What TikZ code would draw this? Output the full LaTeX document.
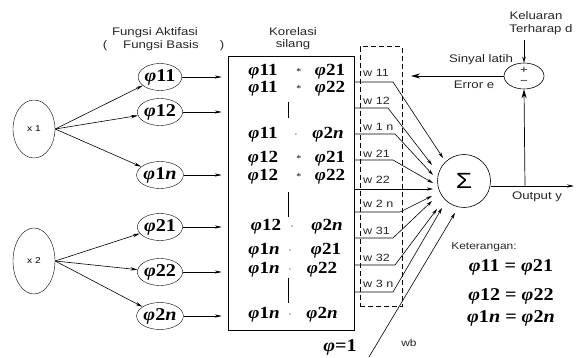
\documentclass[tikz,border=0pt]{standalone}
\usepackage{fontspec}
\setmainfont{Liberation Sans}
\newfontfamily\lab[FakeStretch=1.2]{Liberation Sans}
\newfontfamily\phf[FakeStretch=1.12]{Liberation Serif}
\usetikzlibrary{arrows.meta,shapes.geometric}
\newcommand\Phx[1]{{\itshape φ}#1}
\begin{document}
\begin{tikzpicture}[x=1pt,y=-1pt,
  lbl/.style={font=\lab\fontsize{11}{12}\selectfont, inner sep=0, text=black!85},
  wl/.style={font=\lab\fontsize{10.5}{11}\selectfont, inner sep=0, anchor=west, text=black!85},
  fm/.style={font=\phf\bfseries\fontsize{17}{17}\selectfont, inner sep=0},
  inp/.style={ellipse, draw, minimum width=42, inner sep=0, font=\lab\fontsize{8.5}{9}\selectfont},
  phe/.style={ellipse, draw, minimum width=43, minimum height=27, inner sep=0, font=\phf\bfseries\fontsize{18}{18}\selectfont},
  arr/.style={-{Stealth[length=7pt,width=3.2pt]}, line width=0.6pt},
  warr/.style={-{Stealth[length=6pt,width=3.2pt]}, line width=0.6pt},
  bigarr/.style={-{Stealth[length=9pt,width=5pt]}, line width=0.7pt},
  smarr/.style={-{Stealth[length=6pt,width=3.5pt]}, line width=0.7pt},
  dotm/.style={font=\phf\fontsize{9}{9}\selectfont, inner sep=0},
  eqf/.style={fm, font=\phf\bfseries\fontsize{18}{18}\selectfont}
]
\useasboundingbox (0,0) rectangle (576,358);

% titles
\node[lbl] (t1) at (155,33) {Fungsi Aktifasi};
\node[lbl] (t2a) at (105,46) {(};
\node[lbl] (t2) at (161,46) {Fungsi Basis};
\node[lbl] (t2b) at (222,46) {)};
\node[lbl] (t3) at (293,32) {Korelasi};
\node[lbl] (t4) at (293,45) {silang};

% inputs
\node[inp, minimum height=58] (x1) at (34,129) {x 1};
\node[inp, minimum height=66] (x2) at (34,261) {x 2};

% basis functions
\node[phe] (p11) at (160,77) {\Phx{11}};
\node[phe] (p12) at (160,112) {\Phx{12}};
\node[phe] (p1n) at (160,175) {\Phx{1\textit{n}}};
\node[phe] (p21) at (160,227) {\Phx{21}};
\node[phe] (p22) at (160,272) {\Phx{22}};
\node[phe] (p2n) at (160,316) {\Phx{2\textit{n}}};

\foreach \p in {p11,p12,p1n} \draw[arr] (x1.east) -- (\p);
\foreach \p in {p21,p22,p2n} \draw[arr] (x2.east) -- (\p);

% correlation box
\node[draw, line width=0.6pt, minimum width=126, minimum height=274, inner sep=0] (corr) at (291,193) {};
\foreach \p in {p11,p12,p1n,p21,p22,p2n}
  \draw[arr, shorten >=6pt] (\p.east) -- (\p.east -| corr.west);

% rows
\node[fm] (a1) at (263,72) {\Phx{11}};  \node[dotm] (d1) at (299,72) {*};  \node[fm] (b1) at (330,72) {\Phx{21}};
\node[fm] (a2) at (263,89) {\Phx{11}};  \node[dotm] (d2) at (299,89) {*};  \node[fm] (b2) at (330,89) {\Phx{22}};
\draw[line width=1pt] (288,102) -- (288,118);
\node[fm] (a3) at (263,135) {\Phx{11}}; \node[dotm] (d3) at (296,136) {·}; \node[fm] (b3) at (328,135) {\Phx{2\textit{n}}};
\node[fm] (a4) at (263,159) {\Phx{12}}; \node[dotm] (d4) at (299,159) {*}; \node[fm] (b4) at (330,159) {\Phx{21}};
\node[fm] (a5) at (263,177) {\Phx{12}}; \node[dotm] (d5) at (299,177) {*}; \node[fm] (b5) at (330,177) {\Phx{22}};
\draw[line width=1pt] (288,192) -- (288,217);
\node[fm] (a6) at (266,227) {\Phx{12}}; \node[dotm] (d6) at (292,228) {·}; \node[fm] (b6) at (327,227) {\Phx{2\textit{n}}};
\node[fm] (a7) at (264,251) {\Phx{1\textit{n}}}; \node[dotm] (d7) at (290,252) {·}; \node[fm] (b7) at (326,251) {\Phx{21}};
\node[fm] (a8) at (264,270) {\Phx{1\textit{n}}}; \node[dotm] (d8) at (290,271) {·}; \node[fm] (b8) at (322,270) {\Phx{22}};
\draw[line width=1pt] (288,278) -- (288,303);
\node[fm] (a9) at (264,315) {\Phx{1\textit{n}}}; \node[dotm] (d9) at (290,316) {·}; \node[fm] (b9) at (322,315) {\Phx{2\textit{n}}};

% weights box
\node[draw, dashed, line width=1pt, dash pattern=on 5pt off 3pt, minimum width=42, minimum height=260, inner sep=0] (wbox) at (381,177) {};

% sum node
\node[circle, draw, line width=0.6pt, minimum size=53, inner sep=0, font=\lab\fontsize{22}{22}\selectfont] (sig) at (464,181) {Σ};

% weight lines
\coordinate (e1) at (393,82);  \coordinate (q1) at (443,158);
\coordinate (e2) at (388,108); \coordinate (q2) at (432,165);
\coordinate (e3) at (395,134); \coordinate (q3) at (433,175);
\coordinate (e4) at (393,160); \coordinate (q4) at (433,183);
\coordinate (q5) at (433,189);
\coordinate (e6) at (400,212); \coordinate (q6) at (432,196);
\coordinate (e7) at (393,238); \coordinate (q7) at (432,201);
\coordinate (e8) at (395,265); \coordinate (q8) at (437,209);
\coordinate (e9) at (393,292); \coordinate (q9) at (442,208);
\foreach \i in {1,2,3,4,6,7,8,9}
  \draw[warr] (corr.east |- e\i) -- (e\i) -- (q\i);
\draw[warr] (corr.east |- q5) -- (q5);

\node[wl] (w1) at (363,73) {w 11};
\node[wl] (w2) at (363,101) {w 12};
\node[wl] (w3) at (363,127) {w 1 n};
\node[wl] (w4) at (363,154) {w 21};
\node[wl] (w5) at (363,180) {w 22};
\node[wl] (w6) at (363,204) {w 2 n};
\node[wl] (w7) at (363,231) {w 31};
\node[wl] (w8) at (363,258) {w 32};
\node[wl] (w9) at (363,284) {w 3 n};

% bias
\coordinate (b0) at (369,357); \coordinate (qb) at (455,213);
\draw[warr] (b0) -- (qb);
\node[lbl, font=\lab\fontsize{10}{10}\selectfont] (wb) at (409,343) {wb};
\node[eqf] (phi1) at (340,347) {{\itshape φ}=1};

% error node
\node[ellipse, draw, line width=0.6pt, minimum width=40, minimum height=26, inner sep=0] (pm) at (524,76) {};
\node[lbl, font=\lab\fontsize{11}{11}\selectfont] (plus) at (524,70) {+};
\node[lbl, font=\lab\fontsize{11}{11}\selectfont] (minus) at (524,82) {−};

\node[lbl] (k1) at (536,16) {Keluaran};
\node[lbl] (k2) at (541,30) {Terharap d};
\coordinate (kd) at (524,40);
\draw[smarr] (kd) -- (pm.north);

\coordinate (ee) at (411,76);
\draw[bigarr] (pm.west) -- (ee);
\node[lbl] (sl) at (481,60) {Sinyal latih};
\node[lbl] (er) at (474,85) {Error e};

\coordinate (oy) at (574,186);
\draw[arr] (sig.east |- oy) -- (oy);
\coordinate (j) at (525,186);
\draw[bigarr] (j) -- (pm.south);
\node[lbl] (out) at (537,197) {Output y};

% legend
\node[lbl, font=\lab\fontsize{10}{10}\selectfont] (ket) at (484,247) {Keterangan:};
\node[eqf] (eq1) at (511,267) {\Phx{11}\;=\;\Phx{21}};
\node[eqf] (eq2) at (511,296) {\Phx{12}\;=\;\Phx{22}};
\node[eqf] (eq3) at (511,318) {\Phx{1\textit{n}}\;=\;\Phx{2\textit{n}}};
\end{tikzpicture}
\end{document}
